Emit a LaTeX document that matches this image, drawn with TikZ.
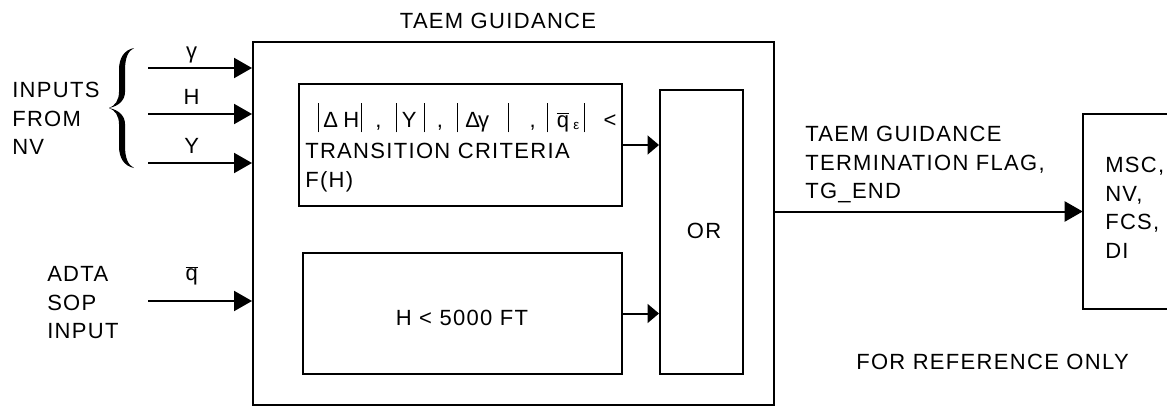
\documentclass[tikz,border=0pt]{standalone}
\usepackage{fontspec}
\setmainfont{Liberation Sans}[LetterSpace=6]
\usetikzlibrary{arrows.meta,fit}
\newcommand{\vb}{\rule[-3.75pt]{0.9pt}{21.75pt}}
\newcommand{\qbar}{$\overline{\mbox{q}}$}
\newcommand{\putat}[2]{\makebox[0pt][l]{\hspace*{#1}#2}}

\tikzset{
  blk/.style={draw, line width=1.5pt, inner sep=0pt},
  txt/.style={inner sep=0pt, align=left, font=\fontsize{16.5pt}{21.5pt}\selectfont},
  sig/.style={line width=1.5pt, -{Triangle[length=13.5pt,width=15pt]}},
  sigin/.style={line width=1.5pt, -{Triangle[length=8.5pt,width=14pt]}},
  lbl/.style={txt, above=6.5pt, text depth=0pt}
}

\begin{document}
\begin{tikzpicture}[x=0.75pt, y=-0.75pt]
  \useasboundingbox (0,0) rectangle (1167,407);
  % Define blocks
  \node[blk, fit={(253,42) (774,405)}] (guid) {};
  \node[blk, fit={(299,84) (622,206)}] (crit) {};
  \node[blk, fit={(303,253) (622,374)}] (alt) {};
  \node[blk, fit={(660,90) (743,374)}] (orbox) {};
  \node[inner sep=0pt, fit={(1083,114) (1190,309)}] (dest) {};
  \draw[line width=1.5pt] (dest.north east) -- (dest.north west) -- (dest.south west) -- (dest.south east);
  % Texts
  \node[txt] (title) at (498,21) {TAEM GUIDANCE};
  \node[txt, anchor=north west] (critTxt) at (305,103) {\hspace*{9.2pt}%
    \putat{0pt}{\vb}\putat{4.3pt}{Δ}\putat{19.3pt}{H}\putat{32.5pt}{\vb}\putat{43.3pt}{,}%
    \putat{59pt}{\vb}\putat{63.3pt}{Y}\putat{79.5pt}{\vb}\putat{89.5pt}{,}%
    \putat{104.5pt}{\vb}\putat{110.8pt}{Δ}\putat{120.5pt}{γ}\putat{142.5pt}{\vb}\putat{159pt}{,}%
    \putat{172pt}{\vb}\putat{179.5pt}{\qbar}\putat{191.8pt}{\raisebox{-2pt}{\fontsize{10pt}{10pt}\selectfont ε}}%
    \putat{199.5pt}{\vb}\putat{214.5pt}{<}\hspace*{226pt}\\[2pt]
    TRANSITION CRITERIA\\
    F(H)};
  \node[txt] (altTxt) at (462,318) {H < 5000 FT};
  \node[txt] (orTxt) at (704,231) {OR};
  \node[txt, anchor=north west] (nvTxt) at (12,82) {INPUTS\\FROM\\NV};
  \node[txt, anchor=north west] (adtaTxt) at (47,266) {ADTA\\SOP\\INPUT};
  \node[txt, anchor=north west] (flagTxt) at (805,126) {TAEM GUIDANCE\\TERMINATION FLAG,\\TG\_END};
  \node[txt, anchor=north west] (destTxt) at (1105,157) {MSC,\\NV,\\FCS,\\DI};
  \node[txt, anchor=north west] (refTxt) at (856,354) {FOR REFERENCE ONLY};
  % Brace
  \fill (134,48) .. controls (124,50) and (119,58) .. (119,70) -- (119,92)
    .. controls (119,100) and (115,106) .. (109,108)
    .. controls (119,106) and (125,100) .. (125,92) -- (125,70)
    .. controls (125,58) and (128,51) .. (134,48) -- cycle;
  \fill (134,168) .. controls (124,166) and (119,158) .. (119,146) -- (119,124)
    .. controls (119,116) and (115,110) .. (109,108)
    .. controls (119,110) and (125,116) .. (125,124) -- (125,146)
    .. controls (125,158) and (128,165) .. (134,168) -- cycle;
  % Inputs
  \coordinate (inG) at (148,68);
  \coordinate (inH) at (148,114);
  \coordinate (inY) at (148,163);
  \coordinate (inQ) at (148,301);
  \draw[sig] (inG) -- node[lbl, pos=0.42] (lblG) {γ} (inG -| guid.west);
  \draw[sig] (inH) -- node[lbl, pos=0.42] (lblH) {H} (inH -| guid.west);
  \draw[sig] (inY) -- node[lbl, pos=0.42] (lblY) {Y} (inY -| guid.west);
  \draw[sig] (inQ) -- node[lbl, pos=0.42, above=8pt] (lblQ) {\qbar} (inQ -| guid.west);
  % Connect blocks
  \draw[sigin] (crit.east) -- (crit.east -| orbox.west);
  \draw[sigin] (alt.east) -- (alt.east -| orbox.west);
  \draw[sig] (dest.west -| guid.east) -- (dest.west);
\end{tikzpicture}
\end{document}
